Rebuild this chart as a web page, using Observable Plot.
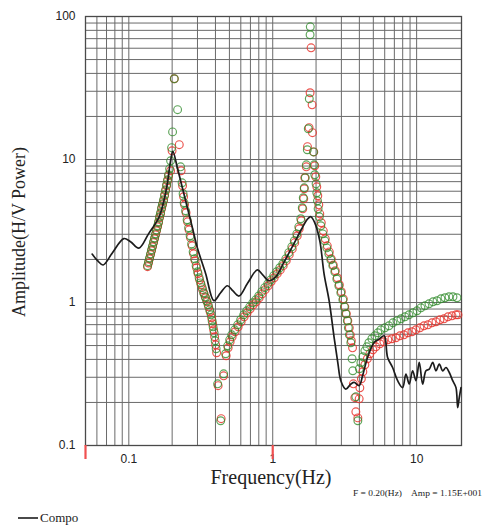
<!DOCTYPE html>
<html>
<head>
<meta charset="utf-8">
<script src="https://cdn.jsdelivr.net/npm/d3@7"></script>
<script src="https://cdn.jsdelivr.net/npm/@observablehq/plot@0.6"></script>
<style>
  html, body { margin: 0; padding: 0; background: #fff; }
  #wrap { position: relative; width: 483px; height: 526px; overflow: hidden; }
  #wrap svg { position: absolute; left: 0; top: 0; }
</style>
</head>
<body>
<div id="wrap"></div>
<script>
// ---------- data ----------
// Compo (black line): [frequency Hz, amplitude]
const compoPoints = [
  [0.0556,2.18],[0.0606,1.96],[0.0663,1.83],[0.0770,2.23],[0.0923,2.80],[0.1028,2.66],[0.1174,2.40],
  [0.1371,3.02],[0.1618,3.93],[0.1752,5.14],[0.185,6.73],[0.195,9.79],[0.2024,11.4],[0.2172,8.79],
  [0.2353,6.37],[0.255,4.62],[0.2762,3.35],[0.2992,2.42],[0.342,1.59],[0.3904,1.03],[0.4346,1.17],
  [0.4839,1.31],[0.527,1.21],[0.583,1.11],[0.670,1.37],[0.7826,1.69],[0.852,1.56],[0.9426,1.42],
  [1.049,1.51],[1.193,1.90],[1.378,2.49],[1.591,3.28],[1.752,3.85],[1.839,3.98],[1.96,3.61],
  [2.124,2.70],[2.275,1.58],[2.465,1.03],[2.671,0.569],[2.834,0.379],[2.973,0.284],[3.221,0.248],
  [3.49,0.269],[3.679,0.276],[3.987,0.262],[4.21,0.307],[4.56,0.413],[5.07,0.525],[5.493,0.555],
  [5.95,0.585],[6.284,0.413],[6.808,0.351],[7.376,0.284],[7.991,0.254],[8.424,0.316],[8.881,0.269],
  [9.38,0.333],[9.888,0.284],[10.43,0.381],[11.01,0.269],[11.61,0.333],[12.24,0.342],[12.93,0.381],
  [13.62,0.333],[14.37,0.371],[15.17,0.333],[15.99,0.351],[16.86,0.324],[17.81,0.284],[18.77,0.254],
  [19.29,0.184],[19.79,0.217],[20.34,0.254]
];

// green circles: [frequency Hz, amplitude]
const greenPoints = [
  [0.1349,1.81],[0.1371,1.93],[0.1393,2.05],[0.1416,2.19],[0.1439,2.34],[0.1462,2.49],[0.1486,2.66],
  [0.1510,2.83],[0.1534,3.02],[0.1558,3.22],[0.1584,3.44],[0.1609,3.67],[0.1635,3.98],[0.1662,4.24],
  [0.1689,4.60],[0.1716,4.90],[0.1744,5.23],[0.1772,5.67],[0.1801,6.14],[0.1830,6.66],[0.1859,7.21],
  [0.1889,7.82],[0.1920,8.61],[0.1951,9.79],[0.1983,12.1],[0.2014,15.6],[0.2070,36.7],[0.2182,22.3],
  [0.2290,8.89],[0.2345,6.87],[0.2383,5.76],[0.2421,4.98],[0.2480,4.38],[0.2541,3.79],[0.2602,3.33],
  [0.2666,2.93],[0.2731,2.57],[0.2798,2.26],[0.2866,2.02],[0.2936,1.81],[0.3007,1.64],[0.3080,1.49],
  [0.3155,1.37],[0.3232,1.27],[0.3311,1.17],[0.3391,1.096],[0.3474,1.028],[0.3558,0.964],[0.3645,0.889],
  [0.3733,0.820],[0.3793,0.745],[0.3854,0.676],[0.3917,0.614],[0.3980,0.540],[0.4044,0.475],[0.4142,0.270],
  [0.4346,0.149],[0.4560,0.317],[0.4709,0.438],[0.4862,0.498],[0.5021,0.548],[0.5185,0.594],[0.5440,0.644],
  [0.5706,0.698],[0.5987,0.757],[0.6283,0.820],[0.6593,0.875],[0.6917,0.933],[0.7258,0.995],[0.7616,1.044],
  [0.7991,1.11],[0.8385,1.19],[0.8796,1.27],[0.9232,1.35],[0.9685,1.44],[1.016,1.54],[1.066,1.64],
  [1.119,1.75],[1.174,1.86],[1.232,2.02],[1.292,2.23],[1.356,2.45],[1.411,2.70],[1.469,3.02],[1.517,3.38],
  [1.566,3.85],[1.604,4.60],[1.630,5.40],[1.656,6.34],[1.684,7.45],[1.711,9.18],[1.739,11.7],[1.766,16.4],
  [1.795,26.6],[1.818,74.5],[1.824,84.7],[1.920,11.3],[1.938,9.18],[1.960,7.82],[2.001,6.76],[2.024,5.85],
  [2.047,5.14],[2.067,4.52],[2.107,3.98],[2.158,3.44],[2.228,3.02],[2.301,2.70],[2.375,2.41],[2.453,2.19],
  [2.533,1.99],[2.615,1.81],[2.701,1.64],[2.789,1.46],[2.879,1.31],[2.973,1.17],[3.070,1.044],[3.145,0.933],
  [3.221,0.834],[3.300,0.745],[3.353,0.665],[3.407,0.594],[3.490,0.523],[3.56,0.404],[3.60,0.333],
  [3.781,0.219],[3.904,0.149],[3.999,0.344],[4.097,0.379],[4.230,0.417],[4.368,0.459],[4.510,0.490],
  [4.657,0.523],[4.886,0.558],[5.127,0.585],[5.378,0.614],[5.643,0.644],[6.016,0.665],[6.414,0.687],
  [6.841,0.721],[7.294,0.745],[7.776,0.769],[8.291,0.794],[8.841,0.820],[9.425,0.847],[10.05,0.875],
  [10.71,0.918],[11.42,0.948],[12.18,0.979],[12.99,1.011],[13.85,1.028],[14.76,1.061],[15.74,1.079],
  [16.78,1.096],[17.89,1.096],[19.07,1.079]
];

// red circles: [frequency Hz, amplitude]
const redPoints = [
  [0.1349,1.78],[0.1371,1.89],[0.1393,2.02],[0.1416,2.16],[0.1439,2.30],[0.1462,2.45],[0.1486,2.62],
  [0.1510,2.79],[0.1534,2.97],[0.1558,3.17],[0.1584,3.38],[0.1609,3.61],[0.1635,3.91],[0.1662,4.17],
  [0.1689,4.52],[0.1716,4.82],[0.1744,5.14],[0.1772,5.58],[0.1801,6.04],[0.1830,6.55],[0.1859,7.10],
  [0.1889,7.69],[0.1951,8.34],[0.1998,11.5],[0.2070,36.7],[0.2242,12.7],[0.2308,8.34],[0.2364,6.55],
  [0.2402,5.49],[0.2441,4.82],[0.2500,4.24],[0.2561,3.67],[0.2623,3.22],[0.2688,2.83],[0.2753,2.49],
  [0.2820,2.19],[0.2889,1.96],[0.2959,1.75],[0.3031,1.59],[0.3105,1.44],[0.3180,1.33],[0.3258,1.23],
  [0.3337,1.15],[0.3419,1.079],[0.3502,1.011],[0.3587,0.933],[0.3674,0.861],[0.3763,0.782],[0.3824,0.710],
  [0.3885,0.644],[0.3948,0.576],[0.4011,0.506],[0.4076,0.445],[0.4175,0.262],[0.4381,0.154],[0.4560,0.307],
  [0.4747,0.424],[0.4901,0.482],[0.5061,0.531],[0.5227,0.576],[0.5483,0.624],[0.5752,0.676],[0.6036,0.733],
  [0.6334,0.794],[0.6645,0.847],[0.6973,0.903],[0.7317,0.964],[0.7677,1.011],[0.8056,1.079],[0.8451,1.15],
  [0.8867,1.23],[0.9304,1.31],[0.9763,1.40],[1.024,1.49],[1.075,1.59],[1.128,1.69],[1.183,1.81],
  [1.242,1.96],[1.303,2.16],[1.367,2.37],[1.422,2.62],[1.481,2.93],[1.529,3.28],[1.579,3.73],[1.617,4.52],
  [1.643,5.31],[1.656,6.24],[1.670,7.45],[1.711,8.89],[1.744,12.3],[1.789,16.7],[1.818,29.3],[1.847,60.4],
  [1.877,24.1],[1.889,15.4],[1.929,11.3],[1.960,9.04],[1.992,7.57],[2.024,6.44],[2.057,5.58],[2.090,4.82],
  [2.124,4.17],[2.175,3.61],[2.246,3.17],[2.319,2.79],[2.394,2.49],[2.473,2.26],[2.553,2.02],[2.636,1.83],
  [2.722,1.67],[2.811,1.49],[2.903,1.33],[2.997,1.19],[3.095,1.061],[3.170,0.933],[3.247,0.834],
  [3.326,0.745],[3.407,0.665],[3.462,0.594],[3.518,0.540],[3.586,0.482],[3.633,0.270],[3.721,0.216],
  [3.781,0.172],[3.904,0.156],[3.987,0.212],[4.031,0.253],[4.130,0.293],[4.230,0.328],[4.368,0.367],
  [4.546,0.404],[4.732,0.438],[4.965,0.467],[5.210,0.490],[5.553,0.514],[5.920,0.531],[6.313,0.548],
  [6.731,0.558],[7.178,0.567],[7.652,0.585],[8.159,0.594],[8.700,0.614],[9.275,0.624],[9.888,0.644],
  [10.54,0.665],[11.24,0.687],[11.98,0.698],[12.78,0.721],[13.62,0.733],[14.53,0.757],[15.49,0.769],
  [16.51,0.794],[17.61,0.807],[18.77,0.820],[19.38,0.820]
];

// axes: tick values and labels
const xTickValues = [0.1, 1, 10];
const xTickLabels = ["0.1", "1", "10"];
const yTickValues = [0.1, 1, 10, 100];
const yTickLabels = ["0.1", "1", "10", "100"];
const xGridValues = [0.06,0.07,0.08,0.09,0.1,0.2,0.3,0.4,0.5,0.6,0.7,0.8,0.9,1,2,3,4,5,6,7,8,9,10];
const yGridValues = [0.2,0.3,0.4,0.5,0.6,0.7,0.8,0.9,1,2,3,4,5,6,7,8,9,10,20,30,40,50,60,70,80,90];
const cursorFreqs = [0.05, 1];      // red cursor marks under the x axis
const xDomain = [0.05, 20.5];
const yDomain = [0.1, 100];

const xTitle = "Frequency(Hz)";
const yTitle = "Amplitude(H/V Power)";
const readoutF = "F = 0.20(Hz)";
const readoutAmp = "Amp = 1.15E+001";
const legendLabel = "Compo";

// ---------- chart ----------
const fx = d => d[0], fy = d => d[1];
const xLab = new Map(xTickValues.map((v, i) => [v, xTickLabels[i]]));
const yLab = new Map(yTickValues.map((v, i) => [v, yTickLabels[i]]));

const chart = Plot.plot({
  width: 483,
  height: 470,
  marginLeft: 85,
  marginRight: 22,
  marginTop: 16,
  marginBottom: 25,
  style: { background: "transparent", fontFamily: "'Liberation Sans', Arial, sans-serif", fontSize: "12px", color: "#222" },
  x: { type: "log", domain: xDomain },
  y: { type: "log", domain: yDomain },
  marks: [
    Plot.ruleX(xGridValues, { stroke: "#6a6a6a", strokeWidth: 1 }),
    Plot.ruleY(yGridValues, { stroke: "#6a6a6a", strokeWidth: 1 }),
    Plot.frame({ stroke: "#4a4a4a", strokeWidth: 1.3 }),
    Plot.dot(redPoints, { x: fx, y: fy, r: 3.9, stroke: "#e8352e", strokeWidth: 1.15, fill: "none", strokeOpacity: 0.85 }),
    Plot.dot(greenPoints, { x: fx, y: fy, r: 3.9, stroke: "#2f8a2a", strokeWidth: 1.15, fill: "none", strokeOpacity: 0.78 }),
    Plot.line(compoPoints, { x: fx, y: fy, stroke: "#1c1c1c", strokeWidth: 1.7, curve: "catmull-rom" }),
    Plot.axisY(yTickValues, { tickSize: 0, tickPadding: 10, tickFormat: d => yLab.get(d), label: null, fontSize: 12 }),
    Plot.axisX(xTickValues, { tickSize: 0, tickPadding: 9, tickFormat: d => xLab.get(d), label: null, fontSize: 12 }),
    Plot.axisX(cursorFreqs, { tickSize: 14, stroke: "#f05050", strokeWidth: 2.2, tickFormat: () => "", label: null })
  ]
});
const wrap = document.getElementById("wrap");
wrap.appendChild(chart);

// ---------- titles, readout and legend ----------
const ov = d3.create("svg").attr("width", 483).attr("height", 526)
  .attr("font-family", "'Liberation Serif', 'Times New Roman', serif").attr("fill", "#222");
ov.append("text").attr("transform", "translate(25,232) rotate(-90)")
  .attr("text-anchor", "middle").attr("font-size", 18).text(yTitle);
ov.append("text").attr("x", 271).attr("y", 484)
  .attr("text-anchor", "middle").attr("font-size", 20).text(xTitle);
ov.append("text").attr("x", 353).attr("y", 496).attr("font-size", 9)
  .attr("textLength", 49).attr("lengthAdjust", "spacingAndGlyphs").text(readoutF);
ov.append("text").attr("x", 411).attr("y", 496).attr("font-size", 9)
  .attr("textLength", 71).attr("lengthAdjust", "spacingAndGlyphs").text(readoutAmp);
ov.append("line").attr("x1", 18).attr("x2", 38).attr("y1", 518).attr("y2", 518)
  .attr("stroke", "#1c1c1c").attr("stroke-width", 1.6);
ov.append("text").attr("x", 40).attr("y", 522).attr("font-size", 13).text(legendLabel);
wrap.appendChild(ov.node());
</script>
</body>
</html>
